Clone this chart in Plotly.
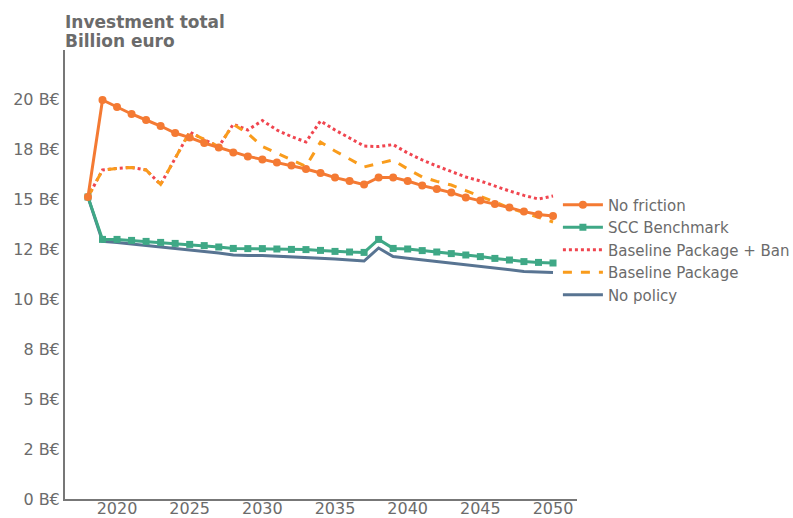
import plotly.graph_objects as go

years = list(range(2018, 2051))

no_friction = [15.1, 19.95, 19.6, 19.25, 18.95, 18.65, 18.3, 18.07, 17.8, 17.57,
               17.33, 17.13, 16.98, 16.83, 16.67, 16.5, 16.3, 16.07, 15.9, 15.72,
               16.08, 16.08, 15.9, 15.67, 15.5, 15.32, 15.08, 14.92, 14.75, 14.57,
               14.37, 14.23, 14.15]

scc_benchmark = [15.1, 12.98, 12.98, 12.93, 12.88, 12.83, 12.78, 12.73, 12.67, 12.6,
                 12.53, 12.52, 12.52, 12.5, 12.48, 12.47, 12.43, 12.38, 12.35, 12.33,
                 12.98, 12.53, 12.5, 12.42, 12.35, 12.27, 12.2, 12.12, 12.03, 11.95,
                 11.87, 11.83, 11.8]

baseline_ban = [15.1, 16.45, 16.53, 16.58, 16.45, 15.73, 17.03, 18.35, 17.97, 17.62,
                18.74, 18.45, 18.92, 18.45, 18.12, 17.85, 18.9, 18.45, 18.05, 17.65,
                17.62, 17.72, 17.3, 16.95, 16.65, 16.38, 16.1, 15.9, 15.63, 15.4,
                15.18, 15.0, 15.15]

baseline = [15.1, 16.45, 16.53, 16.58, 16.45, 15.73, 17.03, 18.35, 17.97, 17.62,
            18.74, 18.28, 17.62, 17.28, 16.95, 16.63, 17.85, 17.4, 17.0, 16.6,
            16.78, 16.95, 16.5, 16.1, 15.88, 15.7, 15.42, 15.15, 14.85, 14.55,
            14.3, 14.08, 13.85]

no_policy = [15.1, 12.88, 12.82, 12.75, 12.67, 12.6, 12.52, 12.45, 12.37, 12.3,
             12.2, 12.17, 12.18, 12.15, 12.12, 12.08, 12.05, 12.0, 11.95, 11.9,
             12.55, 12.12, 12.04, 11.96, 11.88, 11.8, 11.72, 11.64, 11.56, 11.47,
             11.38, 11.35, 11.33]

y_tick_vals = [0, 2.5, 5, 7.5, 10, 12.5, 15, 17.5, 20]
y_tick_text = ["0 B€", "2 B€", "5 B€", "8 B€", "10 B€", "12 B€", "15 B€", "18 B€", "20 B€"]
x_tick_vals = [2020, 2025, 2030, 2035, 2040, 2045, 2050]
title_lines = ["Investment total", "Billion euro"]

GRAY = "#6b6b6b"
FONT = "DejaVu Sans"

fig = go.Figure()
# drawn bottom-up so "No friction" sits on top; legendrank keeps the legend order
fig.add_trace(go.Scatter(x=years, y=no_policy, name="No policy", mode="lines", legendrank=5,
                         line=dict(color="#587492", width=3)))
fig.add_trace(go.Scatter(x=years, y=baseline_ban, name="Baseline Package + Ban", mode="lines",
                         legendrank=3, line=dict(color="#f0454f", width=3, dash="dot")))
fig.add_trace(go.Scatter(x=years, y=baseline, name="Baseline Package", mode="lines",
                         legendrank=4, line=dict(color="#f99c1c", width=3, dash="dash")))
fig.add_trace(go.Scatter(x=years, y=scc_benchmark, name="SCC Benchmark", mode="lines+markers",
                         legendrank=2, line=dict(color="#3fa886", width=3),
                         marker=dict(symbol="square", size=7, color="#3fa886")))
fig.add_trace(go.Scatter(x=years, y=no_friction, name="No friction", mode="lines+markers",
                         legendrank=1, line=dict(color="#f47a33", width=3),
                         marker=dict(symbol="circle", size=8, color="#f47a33")))

# two-line bold heading above the plot, each line placed separately for tight spacing
title_y = [1.0624, 1.0200]
annotations = [dict(text=f"<b>{t}</b>", xref="paper", yref="paper", x=0, y=yy,
                    xanchor="left", yanchor="middle", align="left", showarrow=False,
                    xshift=-2, font=dict(size=17, color=GRAY, family=FONT))
               for t, yy in zip(title_lines, title_y)]

fig.update_layout(
    width=793, height=518,
    margin=dict(l=65, r=216, t=50, b=19, autoexpand=False),
    plot_bgcolor="white", paper_bgcolor="white",
    font=dict(family=FONT, size=15, color=GRAY),
    showlegend=True,
    legend=dict(x=0.9627, y=0.6916, xanchor="left", yanchor="top", traceorder="normal",
                font=dict(size=15, color=GRAY), bgcolor="rgba(0,0,0,0)",
                tracegroupgap=0, itemwidth=40),
    annotations=annotations,
)
fig.update_xaxes(range=[2016.42, 2051.65], tickvals=x_tick_vals,
                 showgrid=False, zeroline=False, showline=True, linecolor="#777777", linewidth=2,
                 ticks="", automargin=False, ticklabelstandoff=-6,
                 tickfont=dict(size=16, color=GRAY))
fig.update_yaxes(range=[0, 22.45], tickvals=y_tick_vals, ticktext=y_tick_text,
                 showgrid=False, zeroline=False, showline=True, linecolor="#777777", linewidth=2,
                 ticks="", automargin=False, tickfont=dict(size=16, color=GRAY))

fig.write_html("out.html")
